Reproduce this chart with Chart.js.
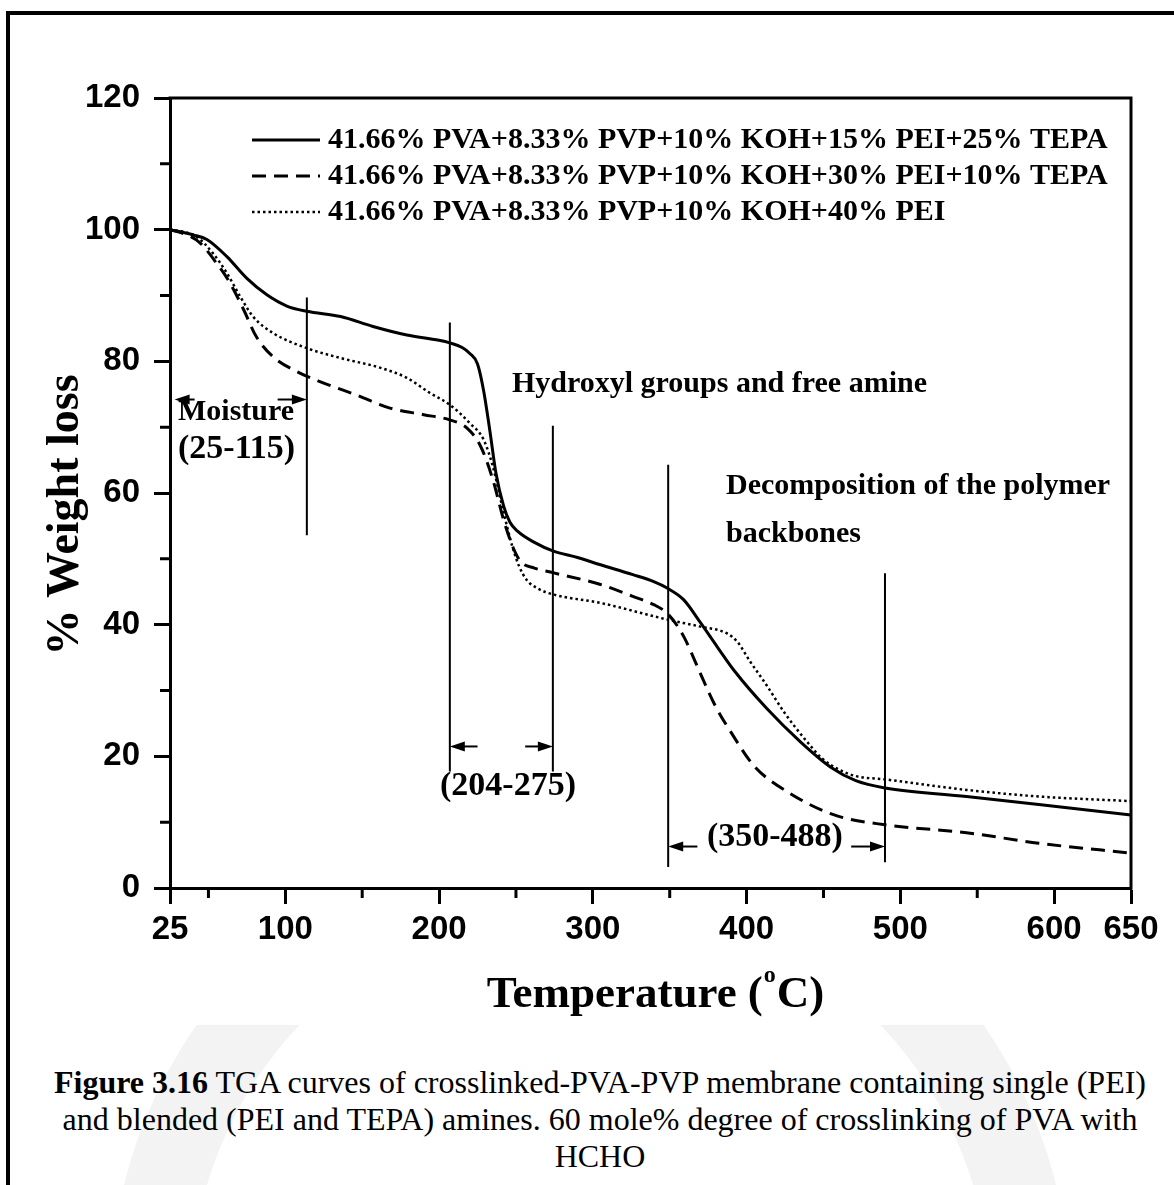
<!DOCTYPE html>
<html>
<head>
<meta charset="utf-8">
<script src="https://cdn.jsdelivr.net/npm/chart.js@4.4.0/dist/chart.umd.min.js"></script>
<style>
html, body { margin: 0; padding: 0; background: #fff; overflow: hidden; }
body { width: 1174px; height: 1185px; position: relative; }
#frame { position: absolute; left: 6px; top: 11px; width: 1300px; height: 1300px; border: 4px solid #000; box-sizing: border-box; }
#seal { position: absolute; left: 0; top: 1025px; width: 1174px; height: 160px; overflow: hidden; }
#ring { position: absolute; left: 110px; top: -205px; width: 960px; height: 960px; border: 80px solid #f3f3f3; border-radius: 50%; box-sizing: border-box; }
#wrap { position: absolute; left: 0; top: 0; width: 1174px; height: 1030px; }
#caption { position: absolute; left: 0; top: 1064px; width: 1200px; text-align: center; font-family: "Liberation Serif", serif; font-size: 32px; line-height: 37px; color: #000; white-space: nowrap; }
</style>
</head>
<body>
<div id="frame"></div>
<div id="seal"><div id="ring"></div></div>
<div id="wrap"><canvas id="tga" width="1174" height="1030"></canvas></div>
<div id="caption"><b>Figure 3.16</b> TGA curves of crosslinked-PVA-PVP membrane containing single (PEI)<br>and blended (PEI and TEPA) amines. 60 mole% degree of crosslinking of PVA with<br>HCHO</div>
<script>
// series names
const seriesNames = [
    '41.66% PVA+8.33% PVP+10% KOH+15% PEI+25% TEPA',
    '41.66% PVA+8.33% PVP+10% KOH+30% PEI+10% TEPA',
    '41.66% PVA+8.33% PVP+10% KOH+40% PEI'
];

// 15% PEI + 25% TEPA (solid)
const tempA = [25, 40, 49, 62, 75, 88, 101, 114, 136, 157, 179, 200, 207, 215, 220, 225, 229, 233, 237, 242, 246, 251, 262, 274, 290, 305, 326, 340, 348, 359, 370, 381, 392, 413, 435, 455, 471, 490, 543, 590, 620, 650];
const wtA   = [100, 99.2, 98.5, 95.9, 92.6, 90.1, 88.4, 87.6, 86.8, 85.3, 84.0, 83.2, 82.8, 82.1, 81.2, 79.6, 75.5, 69.5, 63.0, 58.0, 55.6, 54.2, 52.5, 51.2, 50.2, 49.1, 47.6, 46.5, 45.6, 43.8, 40.3, 36.6, 33.0, 27.3, 22.2, 18.3, 16.3, 15.2, 13.9, 12.7, 11.9, 11.1];

// 30% PEI + 10% TEPA (dashed)
const tempB = [25, 35, 44.5, 55, 64, 73, 81, 92, 107, 125, 146, 168, 190, 207, 218, 227, 235, 242, 248, 253, 262, 274, 305, 326, 340, 348, 355, 360, 366, 372, 380, 390, 405, 428, 457, 490, 543, 590, 650];
const wtB   = [100, 99.3, 98.0, 95.0, 91.9, 87.8, 83.8, 80.7, 78.5, 76.7, 74.9, 72.9, 71.9, 71.1, 69.9, 67.1, 62.0, 55.9, 51.8, 49.6, 48.6, 47.9, 46.1, 44.3, 43.0, 41.8, 39.8, 37.8, 34.7, 31.5, 27.5, 23.6, 18.5, 14.4, 11.1, 9.6, 8.4, 6.8, 5.3];

// 40% PEI (dotted)
const tempC = [25, 35, 42, 53, 62, 70.5, 79, 92, 114, 136, 162, 179, 194, 207, 220, 229, 235, 242, 248, 252, 257, 265, 274, 305, 348, 370, 387, 394, 402, 413, 425, 439, 449, 460, 471, 490, 543, 590, 650];
const wtC   = [100, 99.6, 99.0, 96.4, 93.4, 89.9, 86.8, 84.3, 82.0, 80.5, 79.0, 77.5, 75.2, 73.4, 70.6, 68.1, 64.0, 57.0, 51.6, 48.9, 46.8, 45.4, 44.6, 43.3, 40.8, 39.7, 38.7, 37.4, 34.5, 30.8, 26.5, 22.3, 19.7, 18.0, 17.0, 16.5, 14.9, 13.9, 13.2];

// axis ticks
const xLabels = [25, 100, 200, 300, 400, 500, 600, 650];
const xMinor = [50, 150, 250, 350, 450, 550];
const yLabels = [0, 20, 40, 60, 80, 100, 120];
const yMinor = [10, 30, 50, 70, 90, 110];

// region marker lines (temperature, top, bottom in % units)
const markT = [114, 207, 274, 349, 490];
const markTop = [89.7, 85.9, 70.2, 64.3, 47.8];
const markBottom = [53.6, 17.7, 17.7, 3.2, 3.9];

// arrows (tail temp, head temp, level)
const arrowFrom = [41, 95, 225, 256, 368, 468];
const arrowTo = [28, 114, 207, 274, 349, 490];
const arrowW = [74.2, 74.2, 21.5, 21.5, 6.3, 6.3];

// annotation texts (left temp, centre level)
const noteText = ['Moisture', '(25-115)', 'Hydroxyl groups and free amine', 'Decomposition of the polymer', 'backbones', '(204-275)', '(350-488)'];
const noteT = [30.2, 30.2, 247.4, 386.6, 386.6, 200.6, 374.2];
const noteW = [72.2, 66.6, 76.5, 61.0, 53.8, 15.4, 7.7];

const toPts = (xs, ys) => xs.map((t, i) => ({ x: t, y: ys[i] }));

const SERIF = '"Liberation Serif", "Times New Roman", serif';
const SANS = '"Liberation Sans", Arial, sans-serif';

function arrow(ctx, x0, x1, y) {
    const dir = Math.sign(x1 - x0);
    ctx.beginPath();
    ctx.moveTo(x0, y);
    ctx.lineTo(x1 - dir * 10, y);
    ctx.stroke();
    ctx.beginPath();
    ctx.moveTo(x1, y);
    ctx.lineTo(x1 - dir * 15, y - 5);
    ctx.lineTo(x1 - dir * 15, y + 5);
    ctx.closePath();
    ctx.fill();
}

const deco = {
    id: 'deco',
    afterDraw(chart) {
        const { ctx, chartArea: a, scales: { x, y } } = chart;
        const px = v => x.getPixelForValue(v);
        const py = v => y.getPixelForValue(v);
        ctx.save();
        ctx.strokeStyle = '#000';
        ctx.fillStyle = '#000';

        // top and right of the box
        ctx.lineWidth = 3;
        ctx.beginPath();
        ctx.moveTo(a.left - 1.5, a.top);
        ctx.lineTo(a.right, a.top);
        ctx.lineTo(a.right, a.bottom + 1.5);
        ctx.stroke();

        // minor ticks
        ctx.beginPath();
        xMinor.forEach(v => { ctx.moveTo(px(v), a.bottom); ctx.lineTo(px(v), a.bottom + 10); });
        yMinor.forEach(v => { ctx.moveTo(a.left, py(v)); ctx.lineTo(a.left - 10, py(v)); });
        ctx.stroke();

        // marker lines
        ctx.lineWidth = 2;
        ctx.beginPath();
        markT.forEach((t, i) => { ctx.moveTo(px(t), py(markTop[i])); ctx.lineTo(px(t), py(markBottom[i])); });
        ctx.stroke();

        arrowFrom.forEach((t, i) => arrow(ctx, px(t), px(arrowTo[i]), py(arrowW[i])));

        // annotation texts
        ctx.textBaseline = 'middle';
        ctx.textAlign = 'left';
        noteText.forEach((s, i) => {
            ctx.font = 'bold ' + (s[0] === '(' ? 34 : 30) + 'px ' + SERIF;
            ctx.fillText(s, px(noteT[i]), py(noteW[i]));
        });

        // legend
        ctx.font = 'bold 30px ' + SERIF;
        chart.data.datasets.forEach((ds, i) => {
            const ly = a.top + 42 + i * 36;
            ctx.save();
            ctx.lineWidth = ds.borderWidth;
            ctx.setLineDash(ds.borderDash || []);
            ctx.beginPath();
            ctx.moveTo(a.left + 82, ly);
            ctx.lineTo(a.left + 150, ly);
            ctx.stroke();
            ctx.restore();
            ctx.fillText(ds.label, a.left + 158, ly);
        });

        // x title with superscript o
        const base = 1007;
        ctx.textBaseline = 'alphabetic';
        const big = 'bold 45px ' + SERIF, small = 'bold 24px ' + SERIF;
        ctx.font = big;
        const w1 = ctx.measureText('Temperature (').width, w3 = ctx.measureText('C)').width;
        ctx.font = small;
        const w2 = ctx.measureText('o').width + 2;
        let sx = (a.left + a.right) / 2 + 5 - (w1 + w2 + w3) / 2;
        ctx.font = big;
        ctx.fillText('Temperature (', sx, base);
        ctx.font = small;
        ctx.fillText('o', sx + w1 + 1, base - 25);
        ctx.font = big;
        ctx.fillText('C)', sx + w1 + w2, base);

        // y title
        ctx.translate(78, 515);
        ctx.rotate(-Math.PI / 2);
        ctx.textAlign = 'center';
        ctx.font = 'bold 46px ' + SERIF;
        ctx.fillText('% Weight loss', 0, 0);

        ctx.restore();
    }
};

new Chart(document.getElementById('tga'), {
    type: 'line',
    data: {
        datasets: [
            { label: seriesNames[0], data: toPts(tempA, wtA), borderColor: '#000', borderWidth: 3, borderDash: [] },
            { label: seriesNames[1], data: toPts(tempB, wtB), borderColor: '#000', borderWidth: 3, borderDash: [14, 8] },
            { label: seriesNames[2], data: toPts(tempC, wtC), borderColor: '#000', borderWidth: 2.5, borderDash: [2.5, 3] }
        ]
    },
    options: {
        responsive: false,
        animation: false,
        devicePixelRatio: 1,
        layout: { padding: { left: 0, right: 43, top: 98, bottom: 0 } },
        elements: {
            point: { radius: 0 },
            line: { cubicInterpolationMode: 'monotone', fill: false, borderCapStyle: 'butt' }
        },
        plugins: { legend: { display: false }, tooltip: { enabled: false } },
        scales: {
            x: {
                type: 'linear',
                min: 25, max: 650,
                afterFit: s => { s.height = 142; },
                afterBuildTicks: s => { s.ticks = [...xLabels, ...xMinor].sort((p, q) => p - q).map(v => ({ value: v })); },
                ticks: {
                    autoSkip: false, maxRotation: 0, minRotation: 0,
                    callback: v => xLabels.includes(v) ? String(v) : '',
                    font: { family: SANS, weight: 'bold', size: 33 }, color: '#000', padding: 6
                },
                grid: {
                    drawOnChartArea: false, tickLength: 16, tickWidth: 3,
                    tickColor: c => (c.tick && xLabels.includes(c.tick.value)) ? '#000' : 'rgba(0,0,0,0)'
                },
                border: { color: '#000', width: 3 }
            },
            y: {
                min: 0, max: 120,
                afterFit: s => { s.width = 170; },
                afterBuildTicks: s => { s.ticks = [...yLabels, ...yMinor].sort((p, q) => p - q).map(v => ({ value: v })); },
                ticks: {
                    autoSkip: false,
                    callback: v => yLabels.includes(v) ? String(v) : '',
                    font: { family: SANS, weight: 'bold', size: 33 }, color: '#000', padding: 14
                },
                grid: {
                    drawOnChartArea: false, tickLength: 16, tickWidth: 3,
                    tickColor: c => (c.tick && yLabels.includes(c.tick.value)) ? '#000' : 'rgba(0,0,0,0)'
                },
                border: { color: '#000', width: 3 }
            }
        }
    },
    plugins: [deco]
});
</script>
</body>
</html>
